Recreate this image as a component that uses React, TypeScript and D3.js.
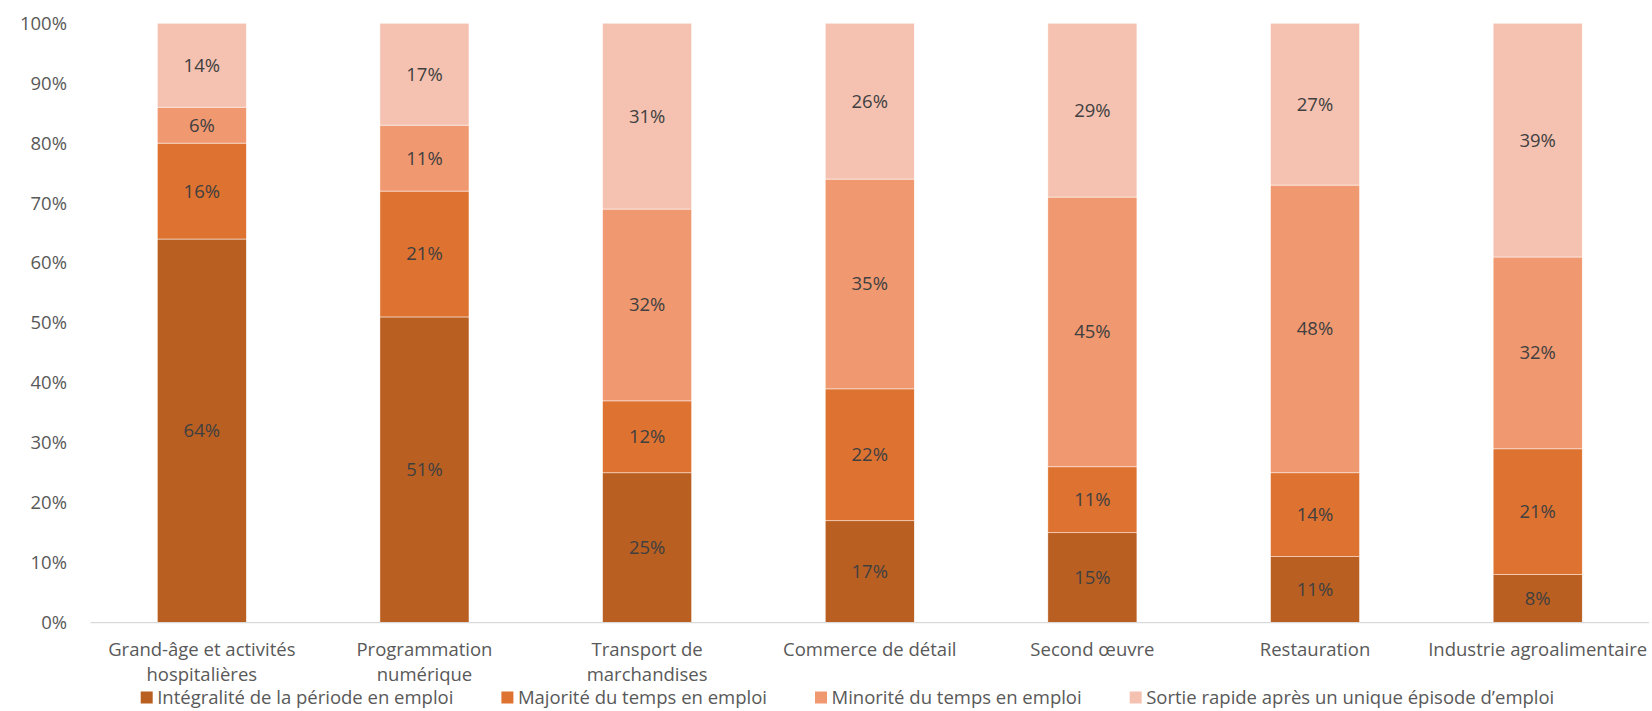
import React, { useEffect, useRef } from "react";
import * as d3 from "d3";

const categories: string[][] = [
  ["Grand-âge et activités", "hospitalières"],
  ["Programmation", "numérique"],
  ["Transport de", "marchandises"],
  ["Commerce de détail"],
  ["Second œuvre"],
  ["Restauration"],
  ["Industrie agroalimentaire"],
];
const seriesNames = [
  "Intégralité de la période en emploi",
  "Majorité du temps en emploi",
  "Minorité du temps en emploi",
  "Sortie rapide après un unique épisode d’emploi",
];
const integralite = [64, 51, 25, 17, 15, 11, 8];
const majorite = [16, 21, 12, 22, 11, 14, 21];
const minorite = [6, 11, 32, 35, 45, 48, 32];
const sortie = [14, 17, 31, 26, 29, 27, 39];
const yTicks = [0, 10, 20, 30, 40, 50, 60, 70, 80, 90, 100];
const colors = ["#B95F22", "#DE7230", "#F09870", "#F5C2B1"];

const W = 1652;
const H = 711;
const FONT = "'Open Sans', Lato, sans-serif";
const FS = 18.5;

export default function App() {
  const ref = useRef<SVGSVGElement>(null);
  useEffect(() => {
    const svg = d3.select(ref.current);
    svg.selectAll("*").remove();
    const series = [integralite, majorite, minorite, sortie];
    const rows = categories.map((c, i) => {
      const r: any = { key: i };
      series.forEach((s, j) => (r["s" + j] = s[i]));
      return r;
    });
    const stack = d3.stack<any>().keys(["s0", "s1", "s2", "s3"])(rows);
    const x = d3
      .scaleBand<number>()
      .domain(categories.map((_, i) => i))
      .range([90.5, 1649])
      .paddingInner(0.6)
      .paddingOuter(0.3);
    const y = d3.scaleLinear().domain([0, 100]).range([622.7, 23.2]);

    // y ticks
    const yAxis = svg.append("g");
    yAxis
      .selectAll("text")
      .data(yTicks)
      .join("text")
      .attr("x", 67)
      .attr("y", (d) => y(d))
      .attr("dy", "0.35em")
      .attr("text-anchor", "end")
      .attr("font-family", FONT)
      .attr("font-size", FS)
      .attr("fill", "#595959")
      .text((d) => d + "%");

    // bars
    const g = svg.append("g");
    stack.forEach((layer, j) => {
      const lg = g.append("g");
      lg.selectAll("rect")
        .data(layer)
        .join("rect")
        .attr("x", (d: any, i) => x(i)!)
        .attr("width", x.bandwidth())
        .attr("y", (d: any) => y(d[1]))
        .attr("height", (d: any) => y(d[0]) - y(d[1]))
        .attr("fill", colors[j])
        .attr("stroke", "#ffffff")
        .attr("stroke-width", 0.5);
      lg.selectAll("text")
        .data(layer)
        .join("text")
        .attr("x", (d: any, i) => x(i)! + x.bandwidth() / 2)
        .attr("y", (d: any) => (y(d[0]) + y(d[1])) / 2)
        .attr("dy", "0.35em")
        .attr("text-anchor", "middle")
        .attr("font-family", FONT)
        .attr("font-size", FS)
        .attr("fill", "#404040")
        .text((d: any) => d[1] - d[0] + "%");
    });

    // axis line
    svg
      .append("line")
      .attr("x1", x.range()[0])
      .attr("x2", x.range()[1])
      .attr("y1", y(0))
      .attr("y2", y(0))
      .attr("stroke", "#D9D9D9")
      .attr("stroke-width", 1.3);

    // x labels
    const xl = svg.append("g");
    categories.forEach((lines, i) => {
      lines.forEach((ln, k) => {
        xl.append("text")
          .attr("x", x(i)! + x.bandwidth() / 2)
          .attr("y", 650 + k * 24.5)
          .attr("dy", "0.35em")
          .attr("text-anchor", "middle")
          .attr("font-family", FONT)
          .attr("font-size", FS)
          .attr("fill", "#595959")
          .text(ln);
      });
    });

    // legend
    const leg = svg.append("g");
    const items = seriesNames.map((n, j) => {
      const gi = leg.append("g");
      gi.append("rect")
        .attr("width", 12)
        .attr("height", 12)
        .attr("y", -6)
        .attr("fill", colors[j]);
      const t = gi
        .append("text")
        .attr("x", 16.5)
        .attr("dy", "0.35em")
        .attr("font-family", FONT)
        .attr("font-size", FS)
        .attr("fill", "#595959")
        .text(n);
      const w = 16.5 + (t.node() as SVGTextElement).getComputedTextLength();
      return { gi, w };
    });
    const gap = 48;
    const total = items.reduce((a, b) => a + b.w, 0) + gap * (items.length - 1);
    let cx = 847.5 - total / 2;
    items.forEach((it) => {
      it.gi.attr("transform", `translate(${cx},697.5)`);
      cx += it.w + gap;
    });
  }, []);
  return (
    <svg
      ref={ref}
      width={W}
      height={H}
      style={{ position: "absolute", left: 0, top: 0, background: "#fff" }}
    />
  );
}
